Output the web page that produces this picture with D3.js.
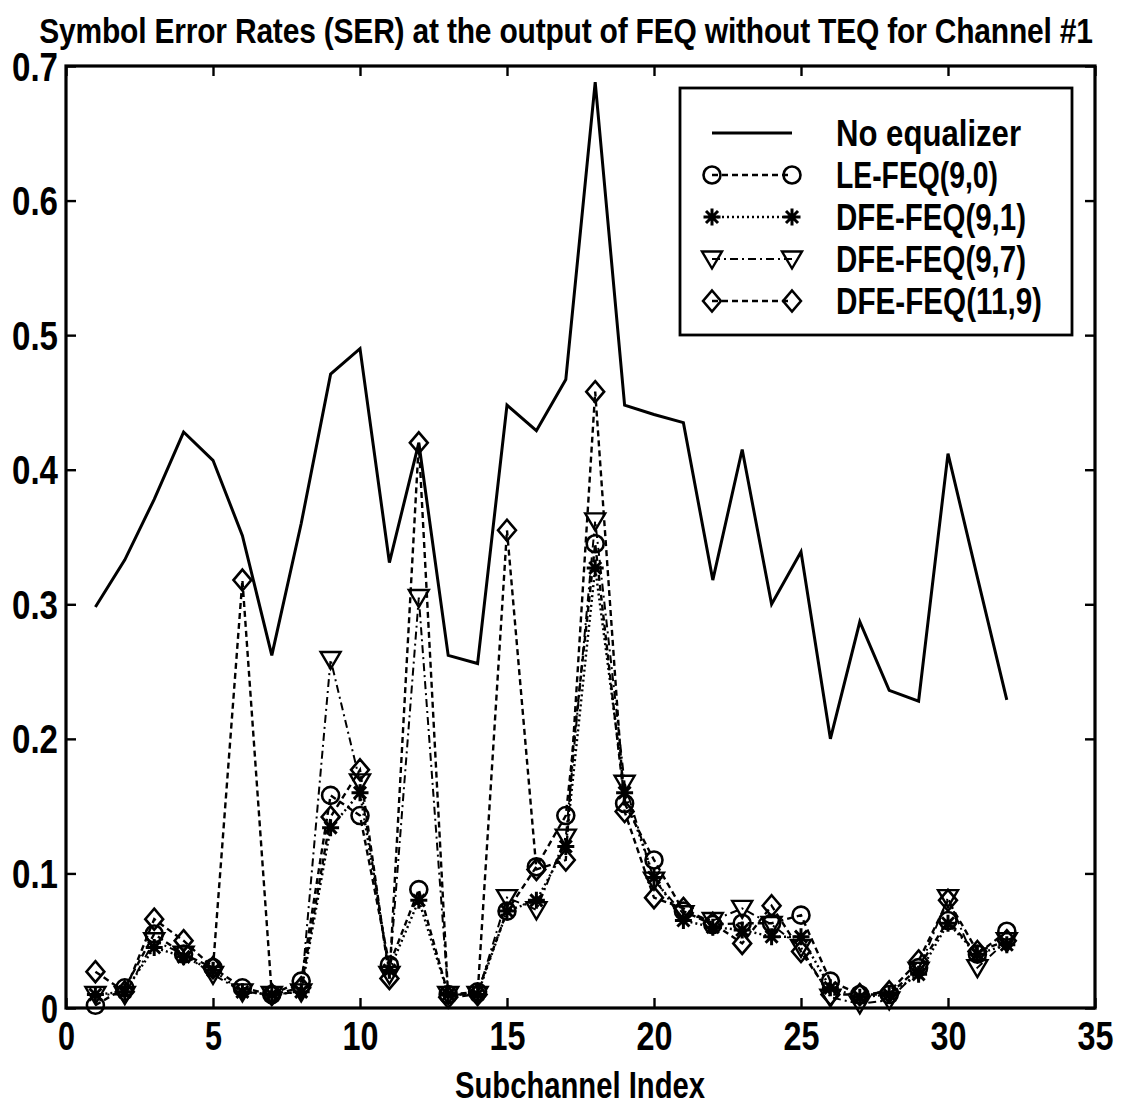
<!DOCTYPE html>
<html><head><meta charset="utf-8">
<script src="https://cdn.jsdelivr.net/npm/d3@7"></script>
<style>body{margin:0;background:#fff}text{font-family:"Liberation Sans",Arial,sans-serif}</style>
</head><body><svg id="c" width="1132" height="1106"></svg>
<script>
const subchannels = d3.range(1, 33);
const noEqualizer = [0.298,0.333,0.378,0.428,0.407,0.351,0.262,0.360,0.471,0.490,0.331,0.420,0.262,0.256,0.448,0.429,0.467,0.688,0.448,0.441,0.435,0.318,0.415,0.300,0.339,0.200,0.287,0.236,0.228,0.412,0.320,0.229];
const leFeq90 = [0.002,0.015,0.055,0.040,0.030,0.015,0.010,0.020,0.158,0.143,0.032,0.088,0.010,0.012,0.072,0.105,0.143,0.345,0.152,0.110,0.072,0.062,0.063,0.063,0.069,0.020,0.010,0.010,0.030,0.065,0.040,0.057];
const dfeFeq91 = [0.010,0.012,0.045,0.038,0.028,0.012,0.010,0.012,0.134,0.160,0.028,0.080,0.010,0.010,0.072,0.080,0.120,0.327,0.160,0.097,0.065,0.060,0.058,0.053,0.053,0.015,0.008,0.010,0.025,0.063,0.040,0.047];
const dfeFeq97 = [0.010,0.010,0.050,0.040,0.025,0.012,0.010,0.012,0.259,0.168,0.025,0.305,0.010,0.010,0.082,0.073,0.127,0.362,0.167,0.095,0.070,0.065,0.074,0.062,0.045,0.008,0.003,0.006,0.028,0.082,0.030,0.050];
const dfeFeq119 = [0.027,0.012,0.066,0.050,0.030,0.318,0.010,0.015,0.142,0.177,0.022,0.420,0.008,0.010,0.355,0.103,0.110,0.458,0.146,0.082,0.074,0.063,0.048,0.076,0.042,0.010,0.010,0.012,0.035,0.080,0.042,0.050];
const xTicks = [0,5,10,15,20,25,30,35];
const yTicks = [0,0.1,0.2,0.3,0.4,0.5,0.6,0.7];
const seriesNames = ["No equalizer","LE-FEQ(9,0)","DFE-FEQ(9,1)","DFE-FEQ(9,7)","DFE-FEQ(11,9)"];

const svg = d3.select("#c");
const L=66,R=1095,T=66,B=1008;
const x = d3.scaleLinear().domain([0,35]).range([L,R]);
const y = d3.scaleLinear().domain([0,0.7]).range([B,T]);

svg.append("rect").attr("width",1132).attr("height",1106).attr("fill","#fff");

// title (natural width, stretched vertically)
svg.append("g").attr("transform","translate(566,43) scale(1,1.18)")
  .append("text").attr("x",0).attr("y",0).attr("text-anchor","middle")
  .attr("font-size",30).attr("font-weight","bold").attr("letter-spacing",-0.2)
  .text("Symbol Error Rates (SER) at the output of FEQ without TEQ for Channel #1");

// axes with inward ticks
const tl = 10;
const gx = svg.append("g").attr("transform",`translate(0,${B})`).call(d3.axisBottom(x).tickValues(xTicks).tickSize(-tl).tickPadding(14).tickFormat(d3.format("d")));
const gxt = svg.append("g").attr("transform",`translate(0,${T})`).call(d3.axisTop(x).tickValues(xTicks).tickSize(-tl).tickFormat(""));
const gy = svg.append("g").attr("transform",`translate(${L},0)`).call(d3.axisLeft(y).tickValues(yTicks).tickSize(-tl).tickPadding(8).tickFormat(d=>d===0?"0":d3.format(".1f")(d)));
const gyr = svg.append("g").attr("transform",`translate(${R},0)`).call(d3.axisRight(y).tickValues(yTicks).tickSize(-tl).tickFormat(""));
[gx,gxt,gy,gyr].forEach(g=>{g.select(".domain").remove();g.selectAll(".tick line").attr("stroke","#000").attr("stroke-width",2.4);});
gx.selectAll("text").attr("font-size",40).attr("font-weight","bold").attr("fill","#000").attr("dy","0.71em")
  .attr("textLength",d=>d<10?17:36).attr("lengthAdjust","spacingAndGlyphs");
gy.selectAll("text").attr("font-size",40).attr("font-weight","bold").attr("fill","#000").attr("dy","0.35em")
  .attr("textLength",d=>d===0?17:46).attr("lengthAdjust","spacingAndGlyphs");
svg.append("rect").attr("x",L).attr("y",T).attr("width",R-L).attr("height",B-T).attr("fill","none").attr("stroke","#000").attr("stroke-width",3.2);

svg.append("text").attr("x",580).attr("y",1098).attr("text-anchor","middle").attr("font-size",37).attr("font-weight","bold")
  .attr("textLength",250).attr("lengthAdjust","spacingAndGlyphs").text("Subchannel Index");

// series
const series = [
  {name:seriesNames[0],vals:noEqualizer,dash:null,w:3,marker:null},
  {name:seriesNames[1],vals:leFeq90,dash:"6,4",w:2.4,marker:"circle"},
  {name:seriesNames[2],vals:dfeFeq91,dash:"2,3",w:2.4,marker:"star"},
  {name:seriesNames[3],vals:dfeFeq97,dash:"8,4,2,4",w:2,marker:"tri"},
  {name:seriesNames[4],vals:dfeFeq119,dash:"6,4",w:2.4,marker:"diamond"}
];
const line = d3.line().x((d,i)=>x(subchannels[i])).y(d=>y(d));

function drawMarker(g,type,cx,cy){
  if(type==="circle"){
    g.append("circle").attr("cx",cx).attr("cy",cy).attr("r",8.5).attr("fill","none").attr("stroke","#000").attr("stroke-width",2.6);
  } else if(type==="star"){
    const r=8.5, p=[];
    for(let k=0;k<4;k++){const a=k*Math.PI/4;p.push(`M${cx-r*Math.cos(a)},${cy-r*Math.sin(a)}L${cx+r*Math.cos(a)},${cy+r*Math.sin(a)}`);}
    g.append("path").attr("d",p.join("")).attr("stroke","#000").attr("stroke-width",3).attr("fill","none");
  } else if(type==="tri"){
    const s=10;
    g.append("path").attr("d",`M${cx-s},${cy-s*0.75}L${cx+s},${cy-s*0.75}L${cx},${cy+s*0.95}Z`).attr("fill","none").attr("stroke","#000").attr("stroke-width",2.4);
  } else if(type==="diamond"){
    const s=10.5;
    g.append("path").attr("d",`M${cx},${cy-s}L${cx+s*0.85},${cy}L${cx},${cy+s}L${cx-s*0.85},${cy}Z`).attr("fill","none").attr("stroke","#000").attr("stroke-width",2.6);
  }
}

const plot = svg.append("g");
series.forEach(s=>{
  plot.append("path").attr("d",line(s.vals)).attr("fill","none").attr("stroke","#000")
    .attr("stroke-width",s.w).attr("stroke-dasharray",s.dash);
  if(s.marker){
    const g = plot.append("g");
    s.vals.forEach((v,i)=>drawMarker(g,s.marker,x(subchannels[i]),y(v)));
  }
});

// legend
const lg = svg.append("g");
lg.append("rect").attr("x",680).attr("y",88).attr("width",392).attr("height",247).attr("fill","#fff").attr("stroke","#000").attr("stroke-width",2.8);
const widths=[185,162,190,190,206];
series.forEach((s,i)=>{
  const yy = 133 + i*42;
  lg.append("line").attr("x1",712).attr("x2",792).attr("y1",yy).attr("y2",yy).attr("stroke","#000")
    .attr("stroke-width",s.w).attr("stroke-dasharray",s.dash);
  if(s.marker){drawMarker(lg,s.marker,712,yy);drawMarker(lg,s.marker,792,yy);}
  lg.append("text").attr("x",836).attr("y",yy).attr("dy","0.36em").attr("font-size",37).attr("font-weight","bold")
    .attr("textLength",widths[i]).attr("lengthAdjust","spacingAndGlyphs").text(s.name);
});
</script></body></html>
